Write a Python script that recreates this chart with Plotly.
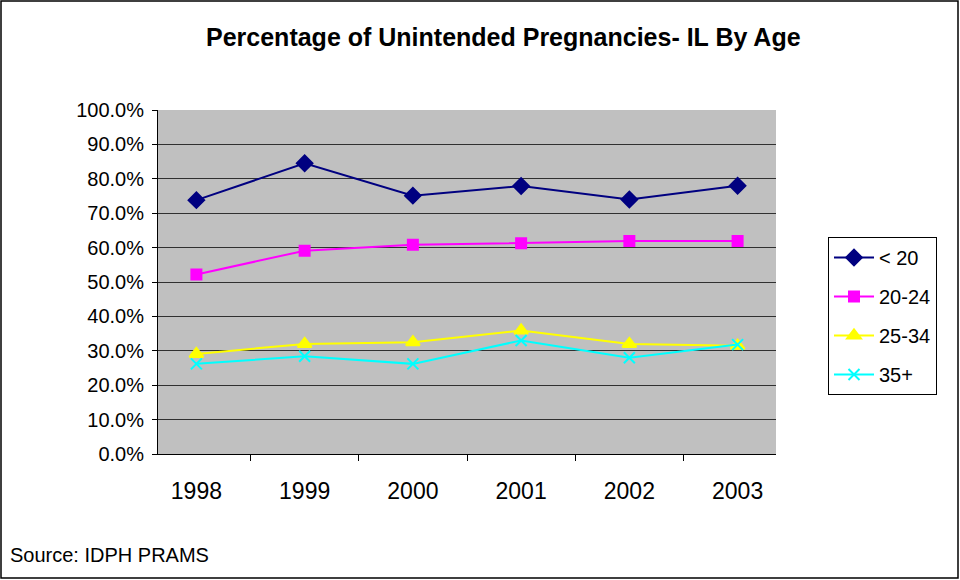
import plotly.graph_objects as go

years = ["1998", "1999", "2000", "2001", "2002", "2003"]
under20 = [0.738, 0.845, 0.751, 0.779, 0.740, 0.780]
age20_24 = [0.522, 0.591, 0.608, 0.613, 0.619, 0.619]
age25_34 = [0.291, 0.320, 0.325, 0.359, 0.320, 0.315]
age35p = [0.262, 0.284, 0.262, 0.330, 0.280, 0.318]

series = [
    ("< 20", under20, "#000080", "diamond", 12),
    ("20-24", age20_24, "#FF00FF", "square", 10),
    ("25-34", age25_34, "#FFFF00", "triangle-up", 12),
    ("35+", age35p, "#00FFFF", "x-thin", 11),
]

fig = go.Figure()
for name, vals, col, sym, sz in series:
    fig.add_trace(go.Scatter(
        x=years, y=vals, name=name, mode="lines+markers", legendgroup=name,
        line=dict(color=col, width=2),
        marker=dict(symbol=sym, size=sz, color=col, line=dict(color=col, width=2)),
    ))

W, H = 960, 580
L, R, T, B = 158, 184, 110, 126
pw, ph = W - L - R, H - T - B

def px(x):
    return (x - L) / pw

def py(y):
    return (H - B - y) / ph

fig.update_layout(
    width=W, height=H,
    margin=dict(l=L, r=R, t=T, b=B),
    paper_bgcolor="white", plot_bgcolor="#C0C0C0",
    font=dict(family="Liberation Sans, Arial, sans-serif", color="black"),
    title=dict(text="<b>Percentage of Unintended Pregnancies- IL By Age</b>",
               x=px(482), xanchor="center", y=1 - 37 / H, yanchor="middle",
               font=dict(size=25)),
    showlegend=True,
    legend=dict(x=px(828), xanchor="left", y=py(237), yanchor="top",
                bordercolor="black", borderwidth=1, bgcolor="white",
                font=dict(size=20), tracegroupgap=10, itemwidth=40),
    xaxis=dict(type="category", tickson="boundaries", ticks="outside", ticklen=6,
               tickcolor="black", showline=True, linecolor="black", linewidth=1,
               showgrid=False, tickfont=dict(size=23), mirror=False,
               ticklabelstandoff=16),
    yaxis=dict(range=[0, 1.0], dtick=0.1, tickformat=".1%", ticks="outside",
               ticklen=5, tickcolor="black", showline=True, linecolor="black",
               showgrid=True, gridcolor="#303030", gridwidth=1,
               tickfont=dict(size=20), zeroline=False, ticklabelstandoff=4),
    shapes=[dict(type="rect", xref="paper", yref="paper",
                 x0=px(1), x1=px(958), y0=py(578), y1=py(1),
                 line=dict(color="black", width=1.5), fillcolor="rgba(0,0,0,0)")],
    annotations=[dict(text="Source: IDPH PRAMS", xref="paper", yref="paper",
                      x=px(8), y=py(555), xanchor="left", yanchor="middle",
                      showarrow=False, font=dict(size=20))],
)

fig.write_html("out.html", config={"displayModeBar": False},
               post_script="document.body.style.margin='0';")
